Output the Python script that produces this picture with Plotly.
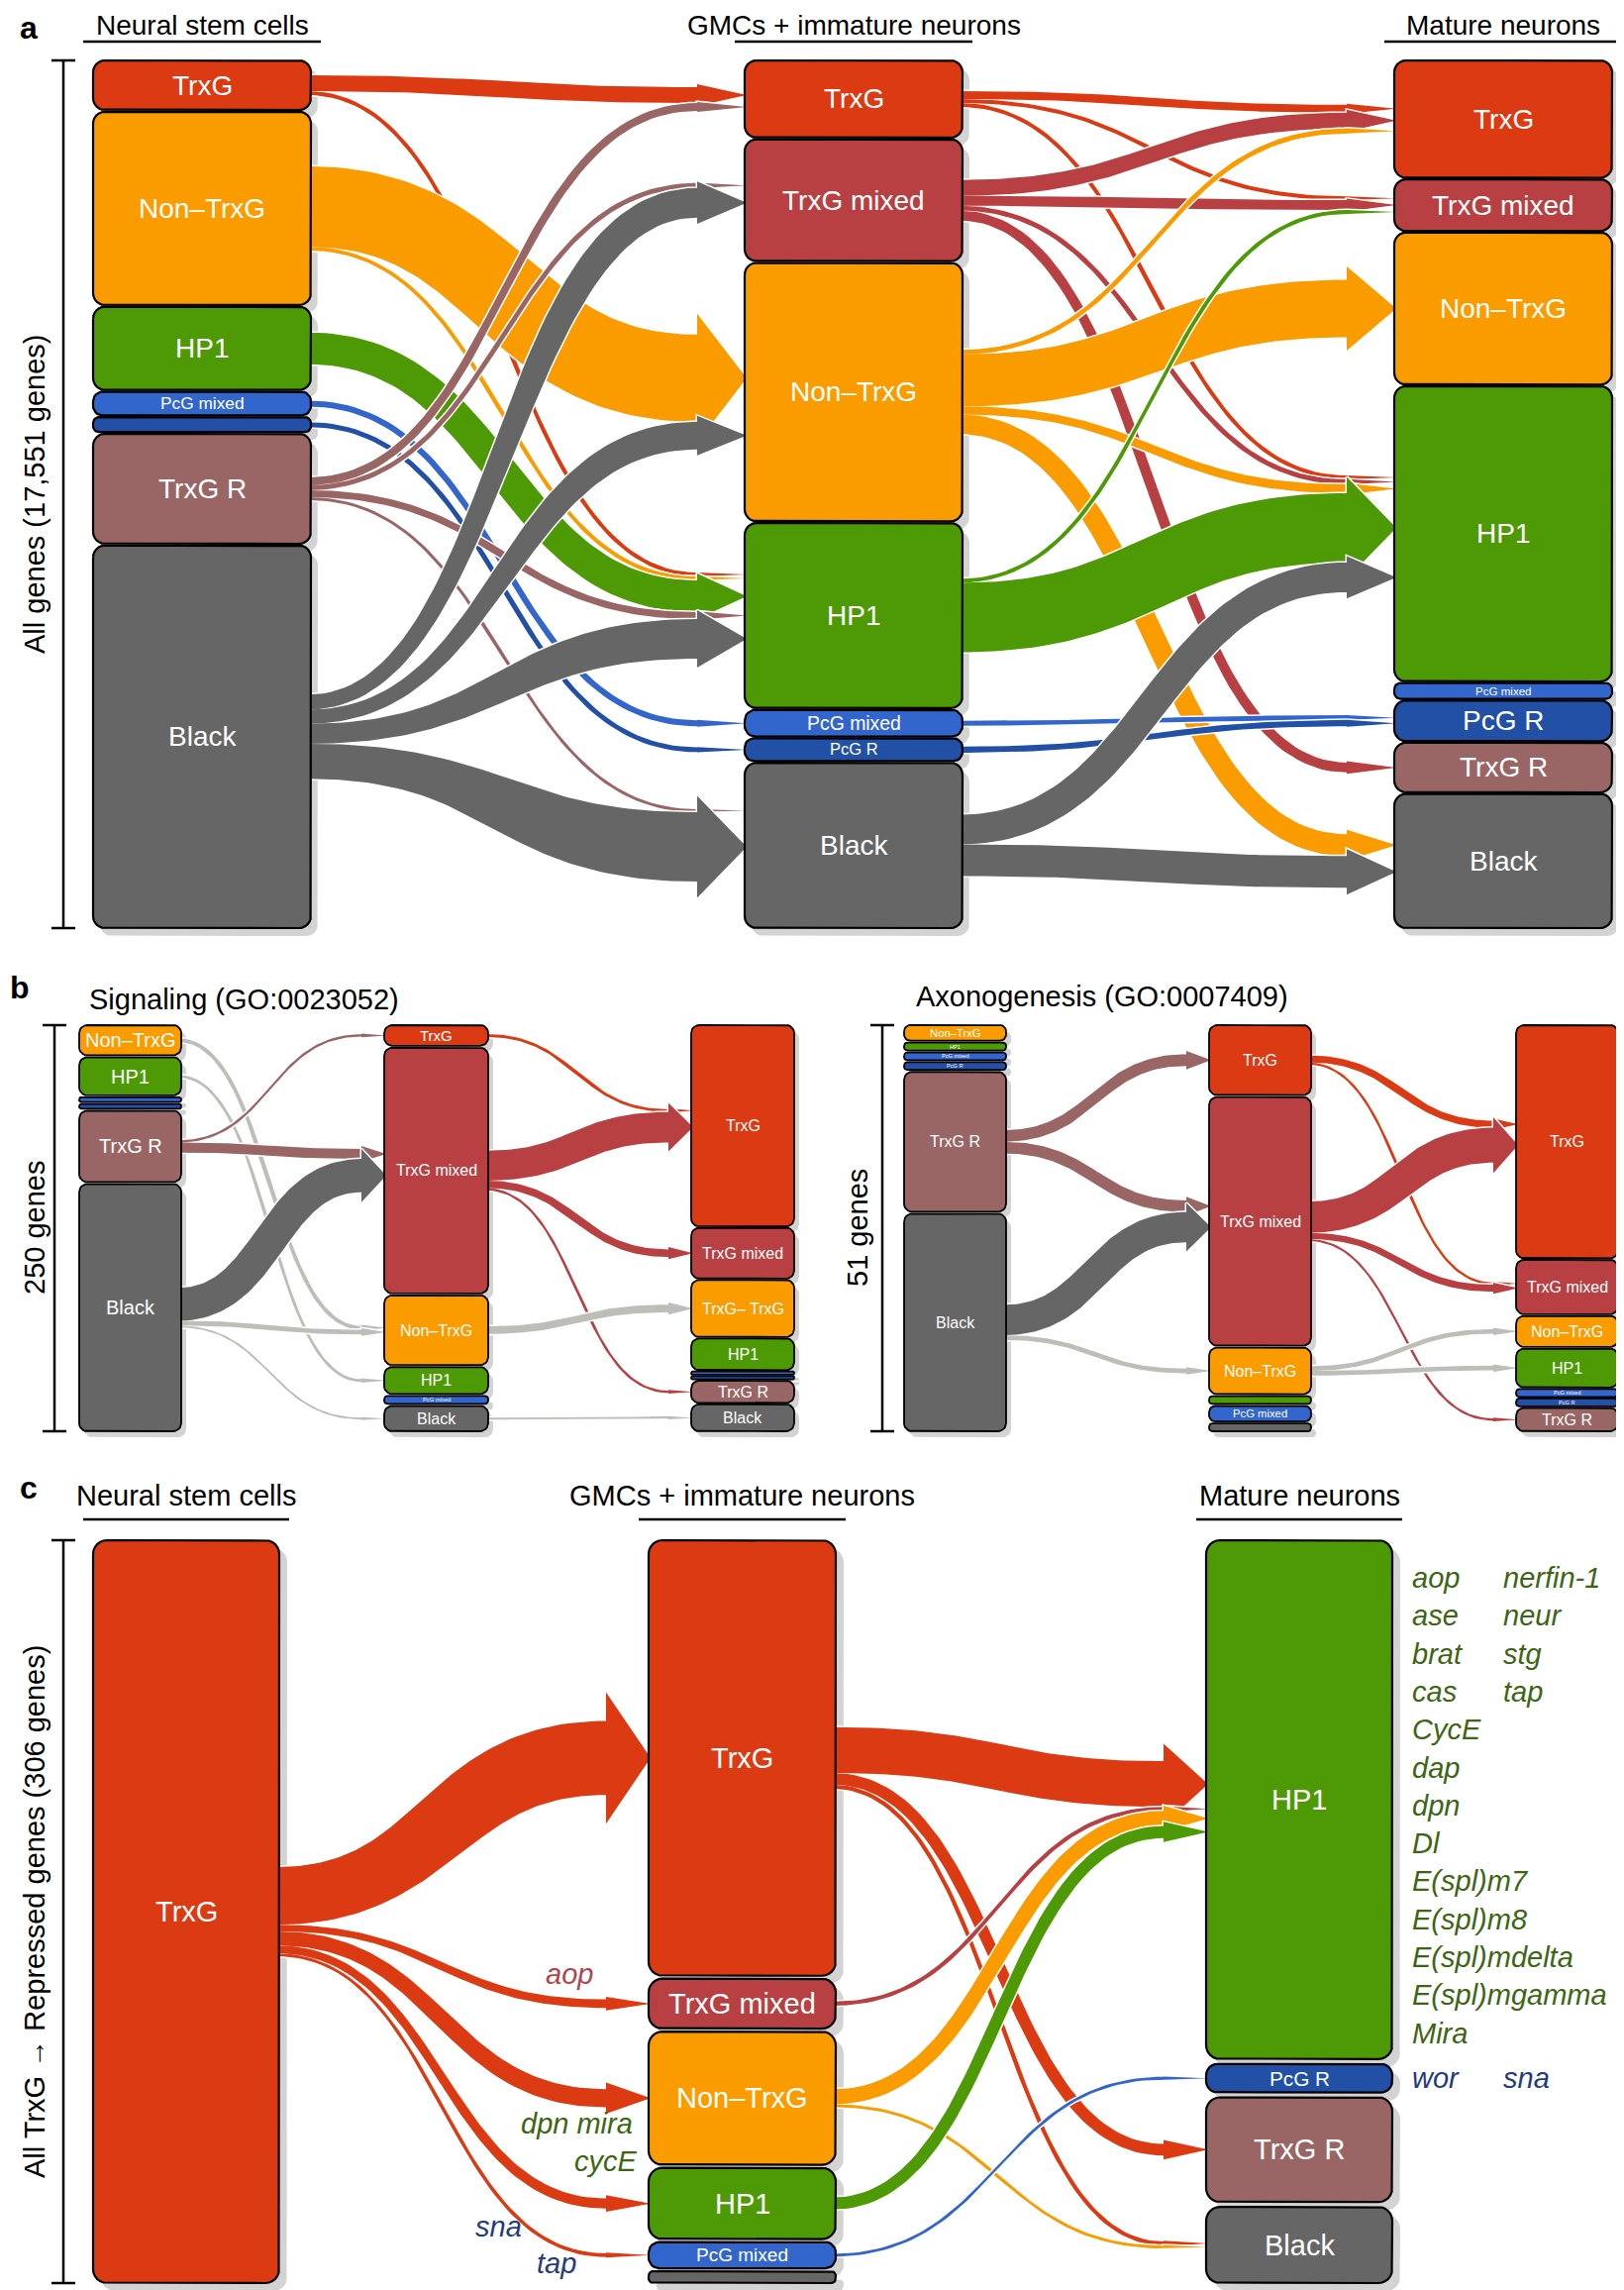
import numpy as np
import plotly.graph_objects as go

W, H = 1640, 2312
OFF = 8  # the page body adds an 8px margin; positions below are page positions
FONT = "Liberation Sans, Arial, Helvetica, sans-serif"

STATE_COLORS = {
    "TrxG": "#DB3A12",
    "TrxG mixed": "#B94042",
    "Non-TrxG": "#FA9B00",
    "HP1": "#4E9A06",
    "PcG mixed": "#3366CC",
    "PcG R": "#2150A6",
    "TrxG R": "#9A6565",
    "Black": "#666666",
}
LIGHT_FLOW = "#BEBEB8"
SHADOW = "#D3D3D3"

# ---------------- Panel a : all genes ----------------
A_TOTAL = 17551
A_COL0_STATES = ["TrxG", "Non-TrxG", "HP1", "PcG mixed", "PcG R", "TrxG R", "Black"]
A_COL0_VALUES = [1015, 3957, 1704, 487, 304, 2252, 7832]
A_COL0_LABELS = ["TrxG", "Non–TrxG", "HP1", "PcG mixed", "", "TrxG R", "Black"]
A_COL1_STATES = ["TrxG", "TrxG mixed", "Non-TrxG", "HP1", "PcG mixed", "PcG R", "Black"]
A_COL1_VALUES = [1581, 2493, 5290, 3790, 547, 466, 3384]
A_COL1_LABELS = ["TrxG", "TrxG mixed", "Non–TrxG", "HP1", "PcG mixed", "PcG R", "Black"]
A_COL2_STATES = ["TrxG", "TrxG mixed", "Non-TrxG", "HP1", "PcG mixed", "PcG R", "TrxG R", "Black"]
A_COL2_VALUES = [2403, 1059, 3115, 6047, 326, 835, 1018, 2748]
A_COL2_LABELS = ["TrxG", "TrxG mixed", "Non–TrxG", "HP1", "PcG mixed", "PcG R", "TrxG R", "Black"]
A_FLOWS_01 = [
    ("TrxG", "TrxG", 650), ("TrxG", "HP1", 160),
    ("Non-TrxG", "Non-TrxG", 3570), ("Non-TrxG", "HP1", 160),
    ("HP1", "HP1", 1300),
    ("PcG mixed", "PcG mixed", 245), ("PcG R", "PcG R", 200),
    ("TrxG R", "TrxG", 325), ("TrxG R", "TrxG mixed", 200), ("TrxG R", "HP1", 285), ("TrxG R", "Black", 120),
    ("Black", "TrxG mixed", 1215), ("Black", "Non-TrxG", 1135), ("Black", "HP1", 1620), ("Black", "Black", 2840),
]
A_FLOWS_12 = [
    ("TrxG", "TrxG", 325), ("TrxG", "TrxG mixed", 160), ("TrxG", "HP1", 160),
    ("TrxG mixed", "TrxG", 650), ("TrxG mixed", "TrxG mixed", 405), ("TrxG mixed", "HP1", 200), ("TrxG mixed", "TrxG R", 405),
    ("Non-TrxG", "TrxG", 200), ("Non-TrxG", "Non-TrxG", 2350), ("Non-TrxG", "HP1", 365), ("Non-TrxG", "Black", 890),
    ("HP1", "TrxG mixed", 160), ("HP1", "HP1", 2840),
    ("PcG mixed", "PcG R", 200), ("PcG R", "PcG R", 245),
    ("Black", "HP1", 1215), ("Black", "Black", 1300),
]

# ---------------- Panel b (left) : Signaling ----------------
BL_TOTAL = 250
BL_COL0_STATES = ["Non-TrxG", "HP1", "PcG mixed", "PcG R", "TrxG R", "Black"]
BL_COL0_VALUES = [19, 24, 3, 3, 45, 156]
BL_COL0_LABELS = ["Non–TrxG", "HP1", "", "", "TrxG R", "Black"]
BL_COL1_STATES = ["TrxG", "TrxG mixed", "Non-TrxG", "HP1", "PcG mixed", "Black"]
BL_COL1_VALUES = [13, 155, 44, 17, 5, 16]
BL_COL1_LABELS = ["TrxG", "TrxG mixed", "Non–TrxG", "HP1", "PcG mixed", "Black"]
BL_COL2_STATES = ["TrxG", "TrxG mixed", "Non-TrxG", "HP1", "PcG mixed", "PcG R", "TrxG R", "Black"]
BL_COL2_VALUES = [127, 32, 36, 20, 2, 2, 14, 17]
BL_COL2_LABELS = ["TrxG", "TrxG mixed", "TrxG– TrxG", "HP1", "", "", "TrxG R", "Black"]
BL_FLOWS_01 = [
    ("Non-TrxG", "Non-TrxG", 8, "light"), ("HP1", "HP1", 6, "light"),
    ("TrxG R", "TrxG", 5), ("TrxG R", "TrxG mixed", 21),
    ("Black", "TrxG mixed", 70), ("Black", "Non-TrxG", 10, "light"), ("Black", "Black", 4, "light"),
]
BL_FLOWS_12 = [
    ("TrxG", "TrxG", 6),
    ("TrxG mixed", "TrxG", 64), ("TrxG mixed", "TrxG mixed", 16), ("TrxG mixed", "TrxG R", 5),
    ("Non-TrxG", "Non-TrxG", 16, "light"), ("Black", "Black", 4, "light"),
]

# ---------------- Panel b (right) : Axonogenesis ----------------
BR_TOTAL = 51
BR_COL0_STATES = ["Non-TrxG", "HP1", "PcG mixed", "PcG R", "TrxG R", "Black"]
BR_COL0_VALUES = [2, 1, 1, 1, 18, 28]
BR_COL0_LABELS = ["Non–TrxG", "HP1", "PcG mixed", "PcG R", "TrxG R", "Black"]
BR_COL1_STATES = ["TrxG", "TrxG mixed", "Non-TrxG", "HP1", "PcG mixed", "Black"]
BR_COL1_VALUES = [9, 32, 6, 1, 2, 1]
BR_COL1_LABELS = ["TrxG", "TrxG mixed", "Non–TrxG", "", "PcG mixed", ""]
BR_COL2_STATES = ["TrxG", "TrxG mixed", "Non-TrxG", "HP1", "PcG mixed", "PcG R", "TrxG R"]
BR_COL2_VALUES = [30, 7, 4, 5, 1, 1, 3]
BR_COL2_LABELS = ["TrxG", "TrxG mixed", "Non–TrxG", "HP1", "PcG mixed", "PcG R", "TrxG R"]
BR_FLOWS_01 = [
    ("TrxG R", "TrxG", 5), ("TrxG R", "TrxG mixed", 5),
    ("Black", "TrxG mixed", 13), ("Black", "Non-TrxG", 2, "light"),
]
BR_FLOWS_12 = [
    ("TrxG", "TrxG", 3), ("TrxG", "TrxG mixed", 1),
    ("TrxG mixed", "TrxG", 15), ("TrxG mixed", "TrxG mixed", 3), ("TrxG mixed", "TrxG R", 1),
    ("Non-TrxG", "Non-TrxG", 2, "light"), ("Non-TrxG", "HP1", 2, "light"),
]

# ---------------- Panel c : TrxG -> repressed genes ----------------
C_TOTAL = 306
C_COL0_STATES = ["TrxG"]
C_COL0_VALUES = [306]
C_COL0_LABELS = ["TrxG"]
C_COL1_STATES = ["TrxG", "TrxG mixed", "Non-TrxG", "HP1", "PcG mixed", "Black"]
C_COL1_VALUES = [183, 21, 56, 30, 11, 5]
C_COL1_LABELS = ["TrxG", "TrxG mixed", "Non–TrxG", "HP1", "PcG mixed", ""]
C_COL2_STATES = ["HP1", "PcG R", "TrxG R", "Black"]
C_COL2_VALUES = [218, 12, 44, 32]
C_COL2_LABELS = ["HP1", "PcG R", "TrxG R", "Black"]
C_FLOWS_01 = [
    ("TrxG", "TrxG", 183), ("TrxG", "TrxG mixed", 21), ("TrxG", "Non-TrxG", 45),
    ("TrxG", "HP1", 25), ("TrxG", "PcG mixed", 9),
]
C_FLOWS_12 = [
    ("TrxG", "HP1", 113), ("TrxG", "TrxG R", 29), ("TrxG", "Black", 10),
    ("TrxG mixed", "HP1", 10),
    ("Non-TrxG", "HP1", 37), ("Non-TrxG", "Black", 7),
    ("HP1", "HP1", 30),
    ("PcG mixed", "PcG R", 7),
]
C_HP1_GENES_1 = ["aop", "ase", "brat", "cas", "CycE", "dap", "dpn", "Dl", "E(spl)m7",
                 "E(spl)m8", "E(spl)mdelta", "E(spl)mgamma", "Mira"]
C_HP1_GENES_2 = ["nerfin-1", "neur", "stg", "tap"]
C_PCGR_GENES = ["wor", "sna"]
C_FLOW_GENE_LABELS = [("aop", "aop"), ("dpn mira", "green"), ("cycE", "green"), ("sna", "navy"), ("tap", "navy")]

GENE_GREEN = "#3D6512"
GENE_NAVY = "#243B7C"
GENE_AOP = "#B2444B"

STAGE_TITLES = ["Neural stem cells", "GMCs + immature neurons", "Mature neurons"]

PANELS = [
    dict(yaxis="y", total=A_TOTAL, top=61, bot=937,
         cols=[(94, 314), (752, 972), (1408, 1628)],
         states=[A_COL0_STATES, A_COL1_STATES, A_COL2_STATES],
         values=[A_COL0_VALUES, A_COL1_VALUES, A_COL2_VALUES],
         labels=[A_COL0_LABELS, A_COL1_LABELS, A_COL2_LABELS],
         flows=[A_FLOWS_01, A_FLOWS_12],
         gap_frac=0.012, k=0.5, cap=85, head=50, fa=0.25, fw0=4, radius=12,
         shadow=(7, 8), border=2.2, fs=[28, 28, 28],
         bracket_x=64, ylabel="All genes (17,551 genes)", ylabel_x=35),
    dict(yaxis="y2", total=BL_TOTAL, top=1035, bot=1445,
         cols=[(80, 183), (388, 493), (698, 802)],
         states=[BL_COL0_STATES, BL_COL1_STATES, BL_COL2_STATES],
         values=[BL_COL0_VALUES, BL_COL1_VALUES, BL_COL2_VALUES],
         labels=[BL_COL0_LABELS, BL_COL1_LABELS, BL_COL2_LABELS],
         flows=[BL_FLOWS_01, BL_FLOWS_12],
         gap_frac=0.025, k=0.3, cap=40, head=25, fa=0.3, fw0=0, radius=8,
         shadow=(5, 6), border=1.8, fs=[20, 16, 16],
         bracket_x=55, ylabel="250 genes", ylabel_x=35),
    dict(yaxis="y3", total=BR_TOTAL, top=1035, bot=1445,
         cols=[(913, 1016), (1221, 1324), (1531, 1634)],
         states=[BR_COL0_STATES, BR_COL1_STATES, BR_COL2_STATES],
         values=[BR_COL0_VALUES, BR_COL1_VALUES, BR_COL2_VALUES],
         labels=[BR_COL0_LABELS, BR_COL1_LABELS, BR_COL2_LABELS],
         flows=[BR_FLOWS_01, BR_FLOWS_12],
         gap_frac=0.025, k=0.3, cap=40, head=25, fa=0.3, fw0=0, radius=8,
         shadow=(5, 6), border=1.8, fs=[16, 16, 16],
         bracket_x=891, ylabel="51 genes", ylabel_x=866),
    dict(yaxis="y4", total=C_TOTAL, top=1555, bot=2305,
         cols=[(94, 282), (655, 844), (1218, 1406)],
         states=[C_COL0_STATES, C_COL1_STATES, C_COL2_STATES],
         values=[C_COL0_VALUES, C_COL1_VALUES, C_COL2_VALUES],
         labels=[C_COL0_LABELS, C_COL1_LABELS, C_COL2_LABELS],
         flows=[C_FLOWS_01, C_FLOWS_12],
         gap_frac=0.02, k=0.17, cap=90, head=45, fa=0.4, fw0=2, radius=14,
         shadow=(8, 8), border=2.2, fs=[29, 29, 29],
         bracket_x=64, ylabel="All TrxG → Repressed genes (306 genes)", ylabel_x=35),
]

# convert page positions to figure positions
for P in PANELS:
    P["top"] -= OFF
    P["bot"] -= OFF
    P["cols"] = [(a - OFF, b - OFF) for a, b in P["cols"]]
    P["bracket_x"] -= OFF
    P["ylabel_x"] -= OFF


def rounded_rect(x0, x1, y0, y1, r, n=7):
    r = max(0.0, min(r, (x1 - x0) / 2.0, (y1 - y0) / 2.0))
    xs, ys = [], []
    corners = [(x0 + r, y0 + r, np.pi, 1.5 * np.pi), (x1 - r, y0 + r, 1.5 * np.pi, 2 * np.pi),
               (x1 - r, y1 - r, 0.0, 0.5 * np.pi), (x0 + r, y1 - r, 0.5 * np.pi, np.pi)]
    for cx, cy, a0, a1 in corners:
        a = np.linspace(a0, a1, n)
        xs += list(cx + r * np.cos(a))
        ys += list(cy + r * np.sin(a))
    xs.append(xs[0])
    ys.append(ys[0])
    return xs, ys


def ribbon(x0, y0, ws, xt, yt, wt, head, flange, n=70):
    xe = xt - head
    d = (xe - x0) * 0.5
    t = np.linspace(0, 1, n)
    T = t[:, None]
    p0 = np.array([x0, y0]); p1 = np.array([x0 + d, y0])
    p2 = np.array([xe - d, yt]); p3 = np.array([xe, yt])
    B = (1 - T) ** 3 * p0 + 3 * (1 - T) ** 2 * T * p1 + 3 * (1 - T) * T ** 2 * p2 + T ** 3 * p3
    D = 3 * (1 - T) ** 2 * (p1 - p0) + 6 * (1 - T) * T * (p2 - p1) + 3 * T ** 2 * (p3 - p2)
    L = np.hypot(D[:, 0], D[:, 1])
    L[L == 0] = 1.0
    N = np.stack([-D[:, 1] / L, D[:, 0] / L], axis=1)
    s = t * t * (3 - 2 * t)
    w = (ws + (wt - ws) * s)[:, None]
    up = B - N * w / 2.0
    lo = B + N * w / 2.0
    hw = wt / 2.0 + flange
    xs = list(up[:, 0]) + [xe, xt, xe] + list(lo[::-1, 0]) + [up[0, 0]]
    ys = list(up[:, 1]) + [yt - hw, yt, yt + hw] + list(lo[::-1, 1]) + [up[0, 1]]
    return xs, ys


fig = go.Figure()
annotations = []
shapes = []
layout_axes = {}


def poly_trace(xs, ys, yaxis, fill, line_color=None, line_width=0):
    return go.Scatter(x=xs, y=ys, xaxis="x", yaxis=yaxis, mode="lines", fill="toself",
                      fillcolor=fill, line=dict(color=line_color or fill, width=line_width),
                      hoverinfo="skip", showlegend=False)


for P in PANELS:
    ax = P["yaxis"]
    axkey = "yaxis" + ax[1:]
    span = P["total"] * (1 + P["gap_frac"])
    top, bot = P["top"], P["bot"]
    ppg = (bot - top) / span

    def g2p(g, top=top, ppg=ppg):
        return top + g * ppg

    def p2g(p, top=top, ppg=ppg):
        return (p - top) / ppg

    pad = 14
    dtop, dbot = top - pad, min(H, bot + pad)
    layout_axes[axkey] = dict(domain=[1 - dbot / H, 1 - dtop / H], range=[p2g(dbot), p2g(dtop)],
                              visible=False, anchor="x", fixedrange=True)

    cols = []
    for ci, (states, values, labels) in enumerate(zip(P["states"], P["values"], P["labels"])):
        n = len(values)
        gap = (span - sum(values)) / (n - 1) if n > 1 else 0.0
        x0, x1 = P["cols"][ci]
        nodes = {}
        g = 0.0
        for i, (st, v, lab) in enumerate(zip(states, values, labels)):
            h = v if n > 1 else span
            nodes[st] = dict(idx=i, top=g2p(g), bot=g2p(g + h), x0=x0, x1=x1, label=lab, state=st, col=ci)
            g += h + gap
        cols.append(nodes)
    P["_cols"], P["_p2g"], P["_span"], P["_ppg"] = cols, p2g, span, ppg

    # shadows
    sx, sy = [], []
    dx, dy = P["shadow"]
    for nodes in cols:
        for nd in nodes.values():
            r = min(P["radius"], (nd["bot"] - nd["top"]) / 2.5)
            xs, ys = rounded_rect(nd["x0"] + dx, nd["x1"] + dx, nd["top"] + dy, nd["bot"] + dy, r)
            sx += xs + [None]
            sy += [p2g(v) for v in ys] + [None]
    fig.add_trace(poly_trace(sx, sy, ax, SHADOW))

    # flows
    for s, flows in enumerate(P["flows"]):
        A, Bn = cols[s], cols[s + 1]
        recs = []
        for f in flows:
            src, tgt, val = f[0], f[1], f[2]
            kind = f[3] if len(f) > 3 else None
            color = LIGHT_FLOW if kind == "light" else STATE_COLORS[src]
            recs.append(dict(src=src, tgt=tgt, wt=val * ppg * P["k"], color=color))
        for src, nd in A.items():
            grp = sorted([r for r in recs if r["src"] == src], key=lambda r: Bn[r["tgt"]]["idx"])
            if not grp:
                continue
            tot = sum(r["wt"] for r in grp)
            c = min(1.0, P["cap"] / tot)
            y = (nd["top"] + nd["bot"]) / 2 - tot * c / 2
            for r in grp:
                r["ws"] = r["wt"] * c
                r["ys"] = y + r["ws"] / 2
                y += r["ws"]
        for tgt, nd in Bn.items():
            grp = sorted([r for r in recs if r["tgt"] == tgt], key=lambda r: A[r["src"]]["idx"])
            if not grp:
                continue
            tot = sum(r["wt"] for r in grp)
            y = (nd["top"] + nd["bot"]) / 2 - tot / 2
            for r in grp:
                r["yt"] = y + r["wt"] / 2
                y += r["wt"]
        for src in A:
            grp = [r for r in recs if r["src"] == src]
            if not grp:
                continue
            polys = []
            for r in grp:
                fl = max(0.0, P["fa"] * (r["wt"] - P["fw0"]))
                xs, ys = ribbon(A[src]["x1"] - 3, r["ys"], r["ws"], Bn[r["tgt"]]["x0"] + 2,
                                r["yt"], r["wt"], P["head"], fl)
                polys.append((xs, [p2g(v) for v in ys], r["color"]))
            ux, uy = [], []
            for xs, ys, _ in polys:
                ux += xs + [None]
                uy += ys + [None]
            fig.add_trace(poly_trace(ux, uy, ax, "white", "white", 3))
            for xs, ys, col in polys:
                fig.add_trace(poly_trace(xs, ys, ax, col))

    # boxes + labels
    for ci, nodes in enumerate(cols):
        for nd in nodes.values():
            hpx = nd["bot"] - nd["top"]
            r = min(P["radius"], hpx / 2.5)
            xs, ys = rounded_rect(nd["x0"], nd["x1"], nd["top"], nd["bot"], r)
            fig.add_trace(poly_trace(xs, [p2g(v) for v in ys], ax, STATE_COLORS[nd["state"]],
                                     "black", P["border"]))
            if nd["label"]:
                fs = min(P["fs"][ci], 0.72 * hpx)
                annotations.append(dict(x=(nd["x0"] + nd["x1"]) / 2, y=p2g((nd["top"] + nd["bot"]) / 2),
                                        xref="x", yref=ax, text=nd["label"], showarrow=False,
                                        xanchor="center", yanchor="middle",
                                        font=dict(family=FONT, size=fs, color="white")))

    # bracket + y label
    bx = P["bracket_x"]
    for (xa, ya, xb, yb) in [(bx, 0, bx, span), (bx - 12, 0, bx + 12, 0), (bx - 12, span, bx + 12, span)]:
        shapes.append(dict(type="line", xref="x", yref=ax, x0=xa, y0=ya, x1=xb, y1=yb,
                           line=dict(color="black", width=2.5)))
    annotations.append(dict(x=P["ylabel_x"], y=span / 2, xref="x", yref=ax, text=P["ylabel"],
                            textangle=-90, showarrow=False, xanchor="center", yanchor="middle",
                            font=dict(family=FONT, size=29, color="black")))


def paper_text(x, y, text, size=29, color="black", xanchor="center", italic=False, bold=False):
    t = text
    if bold:
        t = "<b>" + t + "</b>"
    if italic:
        t = "<i>" + t + "</i>"
    annotations.append(dict(x=(x - OFF) / W, y=1 - (y - OFF) / H, xref="paper", yref="paper", text=t,
                            showarrow=False, xanchor=xanchor, yanchor="middle",
                            font=dict(family=FONT, size=size, color=color)))


# stage titles for panel a (kept inside the top edge) and panel c
for (x0, x1), title in zip(PANELS[0]["cols"], STAGE_TITLES):
    annotations.append(dict(x=(x0 + x1) / 2, y=1.0, xref="x", yref="paper", text=title,
                            showarrow=False, xanchor="center", yanchor="top",
                            font=dict(family=FONT, size=28, color="black")))
    shapes.append(dict(type="line", xref="x", yref="paper", x0=x0 - 10, x1=x1 + 10,
                       y0=1 - (42 - OFF) / H, y1=1 - (42 - OFF) / H, line=dict(color="black", width=2.5)))
for (x0, x1), title in zip(PANELS[3]["cols"], STAGE_TITLES):
    annotations.append(dict(x=(x0 + x1) / 2, y=1 - (1510 - OFF) / H, xref="x", yref="paper", text=title,
                            showarrow=False, xanchor="center", yanchor="middle",
                            font=dict(family=FONT, size=29, color="black")))
    shapes.append(dict(type="line", xref="x", yref="paper", x0=x0 - 10, x1=x1 + 10,
                       y0=1 - (1534 - OFF) / H, y1=1 - (1534 - OFF) / H, line=dict(color="black", width=2.5)))

paper_text(88, 1009, "Signaling (GO:0023052)", xanchor="left")
paper_text(923, 1006, "Axonogenesis (GO:0007409)", xanchor="left")
annotations.append(dict(x=(18 - OFF) / W, y=1.0, xref="paper", yref="paper", text="<b>a</b>",
                        showarrow=False, xanchor="left", yanchor="top",
                        font=dict(family=FONT, size=32, color="black")))
annotations.append(dict(x=0.0, y=1 - (997 - OFF) / H, xref="paper", yref="paper", text="<b>b</b>",
                        showarrow=False, xanchor="left", yanchor="middle",
                        font=dict(family=FONT, size=32, color="black")))
paper_text(29, 1502, "c", size=32, bold=True)

# gene labels in panel c
PC = PANELS[3]
c_p2g = PC["_p2g"]
hp1 = PC["_cols"][2]["HP1"]
pcgr = PC["_cols"][2]["PcG R"]
x_list1, x_list2 = hp1["x1"] + 18, hp1["x1"] + 110
for i, gname in enumerate(C_HP1_GENES_1):
    annotations.append(dict(x=x_list1, y=c_p2g(hp1["top"] + 38 + 38.3 * i), xref="x", yref="y4",
                            text="<i>" + gname + "</i>", showarrow=False, xanchor="left", yanchor="middle",
                            font=dict(family=FONT, size=29, color=GENE_GREEN)))
for i, gname in enumerate(C_HP1_GENES_2):
    annotations.append(dict(x=x_list2, y=c_p2g(hp1["top"] + 38 + 38.3 * i), xref="x", yref="y4",
                            text="<i>" + gname + "</i>", showarrow=False, xanchor="left", yanchor="middle",
                            font=dict(family=FONT, size=29, color=GENE_GREEN)))
for xg, gname in zip([x_list1, x_list2], C_PCGR_GENES):
    annotations.append(dict(x=xg, y=c_p2g((pcgr["top"] + pcgr["bot"]) / 2), xref="x", yref="y4",
                            text="<i>" + gname + "</i>", showarrow=False, xanchor="left", yanchor="middle",
                            font=dict(family=FONT, size=29, color=GENE_NAVY)))

label_pos = {"aop": (575, 1993, "center"), "dpn mira": (641, 2144, "right"), "cycE": (646, 2182, "right"),
             "sna": (503, 2248, "center"), "tap": (562, 2285, "center")}
color_map = {"aop": GENE_AOP, "green": GENE_GREEN, "navy": GENE_NAVY}
for text, ck in C_FLOW_GENE_LABELS:
    x, y, xa = label_pos[text]
    paper_text(x, y, text, color=color_map[ck], xanchor=xa, italic=True)

fig.update_layout(
    width=W, height=H, margin=dict(l=0, r=0, t=0, b=0),
    paper_bgcolor="white", plot_bgcolor="rgba(0,0,0,0)", showlegend=False,
    xaxis=dict(range=[0, W], domain=[0, 1], visible=False, fixedrange=True),
    annotations=annotations, shapes=shapes,
    **layout_axes,
)
fig.write_html("out.html")
